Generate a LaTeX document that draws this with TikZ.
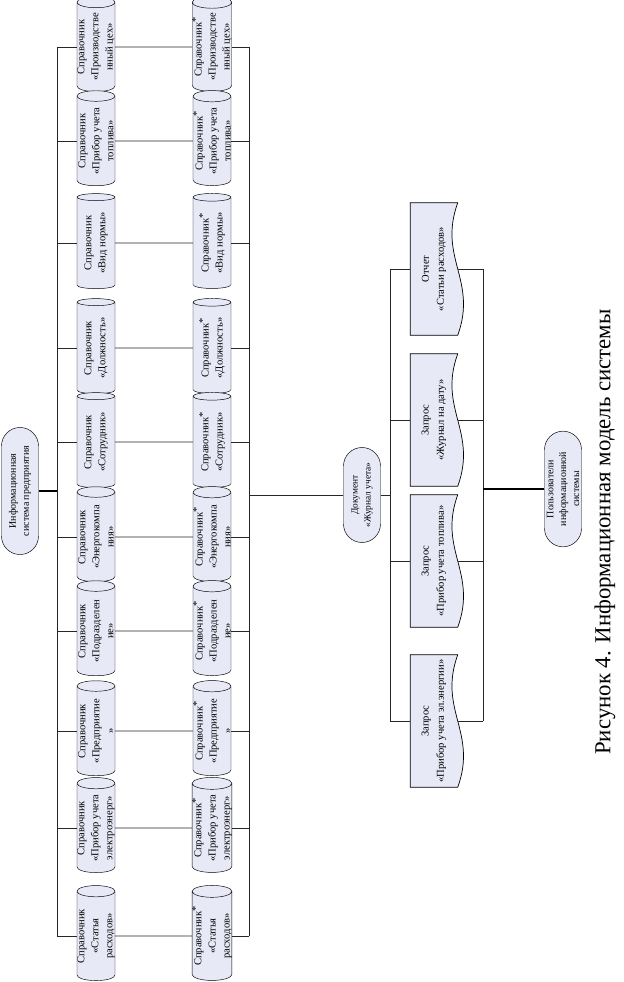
\documentclass[tikz,border=0pt]{standalone}
\usepackage{fontspec}
\setmainfont{Liberation Serif}
\usetikzlibrary{shapes.geometric}
\usetikzlibrary{shapes.misc}
\usetikzlibrary{backgrounds}

\definecolor{boxfill}{RGB}{232,233,247}

\begin{document}
\begin{tikzpicture}[x=0.03cm, y=-0.03cm,
    sprav/.style={cylinder, draw, fill=boxfill, rotate=90, shape aspect=0.3,
      minimum width=1.14cm, minimum height=2.85cm, inner sep=0pt,
      align=center, font=\fontsize{9}{12}\selectfont},
    oval/.style={rounded rectangle, draw, fill=boxfill, rotate=90,
      minimum height=1.11cm, inner sep=1pt, align=center,
      font=\fontsize{8.5}{11}\selectfont},
    docnode/.style={rectangle, rotate=90, minimum width=3.96cm,
      minimum height=1.41cm, inner sep=0pt, align=center,
      font=\fontsize{9}{13}\selectfont},
    docshape/.style={draw, fill=boxfill, line width=0.6pt},
    line1/.style={draw=black!85, line width=0.6pt},
    line2/.style={draw=black, line width=1.6pt}]
    \useasboundingbox (0,0) rectangle (624,982);

    % справочники
    \node[sprav] (l1) at (96,47) {Справочник\\«Производстве\\нный цех»};
    \node[sprav] (l2) at (96,141) {Справочник\\«Прибор учета\\топлива»};
    \node[sprav] (l3) at (96,243) {Справочник\\«Вид нормы»};
    \node[sprav] (l4) at (96,348) {Справочник\\«Должность»};
    \node[sprav] (l5) at (96,442) {Справочник\\«Сотрудник»};
    \node[sprav] (l6) at (96,537) {Справочник\\«Энергокомпа\\ния»};
    \node[sprav] (l7) at (96,631) {Справочник\\«Подразделен\\ие»};
    \node[sprav] (l8) at (96,731) {Справочник\\«Предприятие\\»};
    \node[sprav] (l9) at (96,828) {Справочник\\«Прибор учета\\электроэнерг»};
    \node[sprav] (l10) at (96,936) {Справочник\\«Статья\\расходов»};

    \node[sprav] (r1) at (212,47) {Справочник\raisebox{0.5ex}{*}\\«Производстве\\нный цех»};
    \node[sprav] (r2) at (212,141) {Справочник\raisebox{0.5ex}{*}\\«Прибор учета\\топлива»};
    \node[sprav] (r3) at (212,243) {Справочник\raisebox{0.5ex}{*}\\«Вид нормы»};
    \node[sprav] (r4) at (212,348) {Справочник\raisebox{0.5ex}{*}\\«Должность»};
    \node[sprav] (r5) at (212,442) {Справочник\raisebox{0.5ex}{*}\\«Сотрудник»};
    \node[sprav] (r6) at (212,537) {Справочник\raisebox{0.5ex}{*}\\«Энергокомпа\\ния»};
    \node[sprav] (r7) at (212,631) {Справочник\raisebox{0.5ex}{*}\\«Подразделен\\ие»};
    \node[sprav] (r8) at (212,731) {Справочник\raisebox{0.5ex}{*}\\«Предприятие\\»};
    \node[sprav] (r9) at (212,828) {Справочник\raisebox{0.5ex}{*}\\«Прибор учета\\электроэнерг»};
    \node[sprav] (r10) at (212,936) {Справочник\raisebox{0.5ex}{*}\\«Статья\\расходов»};

    % система, документ, пользователи
    \node[oval, minimum width=3.39cm, inner xsep=-6pt] (sys) at (20,491) {Информационная\\система предприятия};
    \node[oval, minimum width=2.85cm, inner xsep=0pt, font=\fontsize{8}{11}\selectfont] (jrn) at (362,495) {Документ\\«Журнал учета»};
    \node[oval, minimum width=3.54cm] (usr) at (563,489) {Пользователи\\информационной\\системы};

    % запросы и отчет
    \node[docnode] (q1) at (434,269) {Отчет\\«Статьи расходов»};
    \node[docnode] (q2) at (434,420) {Запрос\\«Журнал на дату»};
    \node[docnode] (q3) at (434,561) {Запрос\\«Прибор учета топлива»};
    \node[docnode] (q4) at (434,721) {Запрос\\«Прибор учета эл.энергии»};
    \begin{scope}[on background layer]
    \foreach \i in {1,...,4}
      \path[docshape] (q\i.north east) -- (q\i.south east)
        .. controls +(-20,55) and +(20,-55) .. (q\i.south west)
        -- (q\i.north west) -- cycle;
    \end{scope}

    % шины
    \coordinate (lbus) at (57,0);
    \coordinate (rbus) at (249,0);
    \coordinate (mbus) at (390,0);
    \coordinate (nbus) at (483,0);
    \draw[line1] (l1.north -| lbus) -- (l10.north -| lbus);
    \draw[line1] (r1.south -| rbus) -- (r10.south -| rbus);
    \foreach \i in {1,...,10} {
      \draw[line1] (lbus |- l\i.north) -- (l\i.north);
      \draw[line1] (l\i.south) -- (r\i.north);
      \draw[line1] (r\i.south) -- (rbus |- r\i.south);
    }
    \draw[line2] (sys.south) -- (sys.south -| lbus);
    \draw[line1] (jrn.north) -- (jrn.north -| rbus);
    \draw[line1] (jrn.south) -- (jrn.south -| mbus);
    \draw[line1] (q1.north -| mbus) -- (q4.north -| mbus);
    \draw[line1] (q1.south -| nbus) -- (q4.south -| nbus);
    \foreach \i in {1,...,4} {
      \draw[line1] (mbus |- q\i.north) -- (q\i.north);
      \draw[line1] (q\i.south) -- (nbus |- q\i.south);
    }
    \draw[line2] (usr.north) -- (usr.north -| nbus);

    % подпись
    \node[rotate=90, font=\fontsize{19.5}{22}\selectfont] (cap) at (605,532) {Рисунок 4. Информационная модель системы};
\end{tikzpicture}
\end{document}
